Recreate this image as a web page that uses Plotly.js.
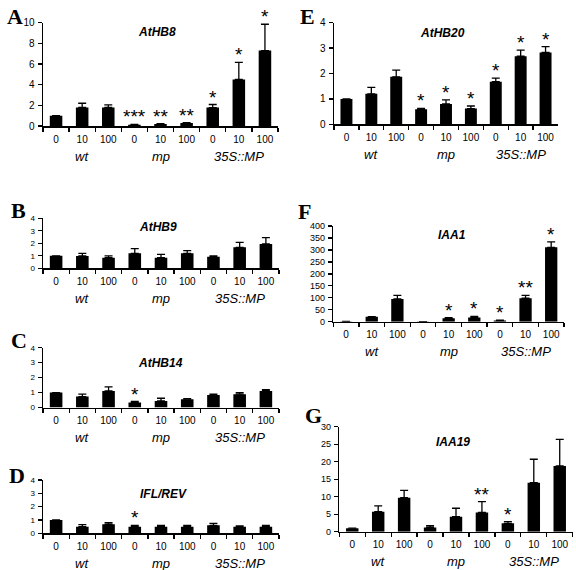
<!DOCTYPE html>
<html>
<head>
<meta charset="utf-8">
<script src="https://cdn.plot.ly/plotly-3.0.1.min.js"></script>
<style>html,body{margin:0;padding:0;background:#fff}#chart{width:576px;height:570px}</style>
</head>
<body>
<div id="chart"></div>
<script>
// ---- data ----
const doses = ["0","10","100","0","10","100","0","10","100"];
const genotypes = ["wt","mp","35S::MP"];
const geneNames = ["AtHB8","AtHB9","AtHB14","IFL/REV","AtHB20","IAA1","IAA19"];
const panelLetters = ["A","B","C","D","E","F","G"];

const athb8     = [1.0, 1.8, 1.8, 0.12, 0.2, 0.28, 1.78, 4.5, 7.3];
const athb8Err  = [0, 0.4, 0.25, 0.03, 0.03, 0.04, 0.3, 1.65, 2.55];
const athb8Sig  = ["","","","***","**","**","*","*","*"];

const athb9     = [1.0, 0.99, 0.85, 1.2, 0.85, 1.2, 0.93, 1.68, 1.95];
const athb9Err  = [0, 0.21, 0.14, 0.37, 0.27, 0.21, 0.06, 0.4, 0.5];
const athb9Sig  = ["","","","","","","","",""];

const athb14    = [1.0, 0.73, 1.11, 0.33, 0.44, 0.56, 0.84, 0.89, 1.11];
const athb14Err = [0, 0.16, 0.27, 0.07, 0.18, 0.04, 0.05, 0.11, 0.09];
const athb14Sig = ["","","","*","","","","",""];

const iflrev    = [1.0, 0.5, 0.68, 0.5, 0.5, 0.5, 0.6, 0.5, 0.5];
const iflrevErr = [0, 0.15, 0.12, 0.1, 0.1, 0.1, 0.15, 0.05, 0.1];
const iflrevSig = ["","","","*","","","","",""];

const athb20    = [1.0, 1.2, 1.87, 0.59, 0.8, 0.62, 1.68, 2.68, 2.83];
const athb20Err = [0, 0.25, 0.26, 0.04, 0.16, 0.1, 0.14, 0.24, 0.23];
const athb20Sig = ["","","","*","*","*","*","*","*"];

const iaa1      = [1, 21, 95, 0.5, 14, 18, 5, 98, 311];
const iaa1Err   = [0, 0, 15, 0, 3, 4, 1.5, 12, 23];
const iaa1Sig   = ["","","","","*","*","*","**","*"];

const iaa19     = [1, 5.7, 9.7, 1.2, 4.3, 5.5, 2.4, 14, 18.8];
const iaa19Err  = [0, 1.7, 2.1, 0.5, 2.4, 3.1, 0.5, 6.7, 7.6];
const iaa19Sig  = ["","","","","","**","*","",""];

const yMax   = [10, 4, 4, 4, 4, 400, 30];
const yDtick = [2, 1, 1, 1, 1, 50, 5];

const seriesVals = [athb8, athb9, athb14, iflrev, athb20, iaa1, iaa19];
const seriesErr  = [athb8Err, athb9Err, athb14Err, iflrevErr, athb20Err, iaa1Err, iaa19Err];
const seriesSig  = [athb8Sig, athb9Sig, athb14Sig, iflrevSig, athb20Sig, iaa1Sig, iaa19Sig];

// ---- layout geometry (pixels) ----
const W = 576, H = 570;
const geom = [
  {x0:43,  x1:278, yt:22.7,  yb:126,   yfs:10, title:[157,32],  letter:[15,17]},
  {x0:43,  x1:279, yt:218.3, yb:268.3, yfs:8,  title:[158,227], letter:[18,210]},
  {x0:43,  x1:279, yt:347.7, yb:407.5, yfs:8,  title:[160,363], letter:[19,340]},
  {x0:43,  x1:279, yt:480,   yb:533.3, yfs:8,  title:[163,494], letter:[17,475]},
  {x0:334, x1:558, yt:22.7,  yb:124.3, yfs:10, title:[442,33],  letter:[307,17]},
  {x0:333.3,x1:564,yt:226,   yb:321.7, yfs:9,  title:[452,235], letter:[304,211]},
  {x0:339.3,x1:572.7,yt:426.7,yb:531.7,yfs:9,  title:[453,442], letter:[313,415]}
];

const catKeys = doses.map((d,i)=> genotypes[Math.floor(i/3)] + " " + d);
const font = "Liberation Sans, Arial, sans-serif";

const traces = [];
const layout = {
  width: W, height: H,
  margin: {l:0, r:0, t:0, b:0},
  paper_bgcolor: "#fff", plot_bgcolor: "#fff",
  showlegend: false,
  bargap: 0.52,
  font: {family: font, color: "#000"},
  annotations: []
};

for (let k = 0; k < 7; k++) {
  const n = k + 1;
  const g = geom[k];
  const xa = "x" + n, ya = "y" + n;
  traces.push({
    type: "bar",
    x: catKeys,
    y: seriesVals[k],
    xaxis: xa, yaxis: ya,
    marker: {color: "#000", line: {width: 0}},
    error_y: {type: "data", symmetric: false, array: seriesErr[k],
              arrayminus: seriesErr[k].map(()=>0),
              color: "#000", thickness: 1.3, width: 4},
    cliponaxis: false,
    hoverinfo: "none"
  });
  layout["xaxis" + n] = {
    domain: [g.x0 / W, g.x1 / W],
    anchor: ya,
    type: "category",
    categoryorder: "array", categoryarray: catKeys,
    tickmode: "array", tickvals: catKeys, ticktext: doses,
    tickson: "boundaries",
    tickangle: 0,
    range: [-0.5, 8.5],
    ticks: "outside", ticklen: 4, tickwidth: 1.3, tickcolor: "#000",
    showline: true, linecolor: "#000", linewidth: 1.5,
    showgrid: false, zeroline: false,
    tickfont: {family: font, size: 10, color: "#000"},
    ticklabelstandoff: 3,
    fixedrange: true
  };
  layout["yaxis" + n] = {
    domain: [1 - g.yb / H, 1 - g.yt / H],
    anchor: xa,
    range: [0, yMax[k]],
    dtick: yDtick[k], tick0: 0,
    ticks: "outside", ticklen: 4, tickwidth: 1.3, tickcolor: "#000",
    showline: true, linecolor: "#000", linewidth: 1.5,
    showgrid: false, zeroline: false,
    tickfont: {family: font, size: g.yfs, color: "#000"},
    ticklabelstandoff: 1,
    fixedrange: true
  };
  // genotype labels
  [1, 4, 7].forEach((ci, gi) => {
    layout.annotations.push({
      x: catKeys[ci], y: 0, xref: xa, yref: ya + " domain",
      yanchor: "middle", yshift: -30, showarrow: false,
      text: "<i>" + genotypes[gi] + "</i>",
      font: {family: font, size: 13, color: "#000"}
    });
  });
  // significance stars
  seriesSig[k].forEach((s, i) => {
    if (!s) return;
    layout.annotations.push({
      x: catKeys[i], y: seriesVals[k][i] + seriesErr[k][i],
      xref: xa, yref: ya, yanchor: "bottom", yshift: -5,
      showarrow: false, text: s,
      font: {family: font, size: 19, color: "#000"}
    });
  });
  // gene title
  layout.annotations.push({
    x: g.title[0] / W, y: 1 - g.title[1] / H, xref: "paper", yref: "paper",
    xanchor: "center", yanchor: "middle", showarrow: false,
    text: "<b><i>" + geneNames[k] + "</i></b>",
    font: {family: font, size: 12, color: "#000"}
  });
  // panel letter
  layout.annotations.push({
    x: g.letter[0] / W, y: 1 - g.letter[1] / H, xref: "paper", yref: "paper",
    xanchor: "center", yanchor: "middle", showarrow: false,
    text: "<b>" + panelLetters[k] + "</b>",
    font: {family: "Liberation Serif, Times New Roman, serif", size: 22, color: "#000"}
  });
}

Plotly.newPlot("chart", traces, layout, {staticPlot: true});
</script>
</body>
</html>
